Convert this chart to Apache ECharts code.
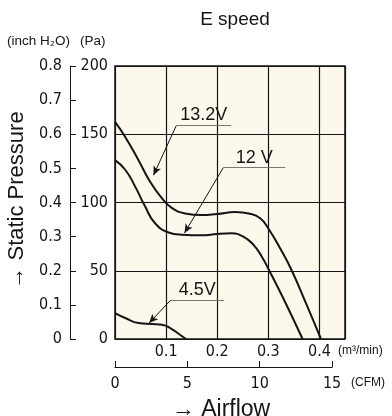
<!DOCTYPE html>
<html>
<head>
<meta charset="utf-8">
<script src="https://cdn.jsdelivr.net/npm/echarts@6/dist/echarts.min.js"></script>
<style>
html,body{margin:0;padding:0;background:#fff;}
#chart{width:392px;height:416px;}
</style>
</head>
<body>
<div id="chart"></div>
<script>
// ---- data (airflow in m3/min, static pressure in Pa) ----
const x132 = [0, 0.02, 0.046, 0.069, 0.092, 0.111, 0.137, 0.17, 0.2, 0.235, 0.264, 0.284, 0.3, 0.323, 0.346, 0.375, 0.403];
const y132 = [159, 148, 131, 115, 103, 96, 92, 90.8, 91.6, 93, 91.8, 88.5, 81, 66.5, 50, 25, 0];
const x12 = [0, 0.02, 0.039, 0.059, 0.078, 0.105, 0.131, 0.17, 0.2, 0.228, 0.251, 0.271, 0.287, 0.302, 0.329, 0.367];
const y12 = [131, 124, 112, 97, 85, 78, 76.4, 76, 77, 77.4, 75, 69, 60.5, 50, 30, 0];
const x45 = [0, 0.02, 0.046, 0.072, 0.092, 0.111, 0.127, 0.139];
const y45 = [19, 15.4, 11.7, 11, 10.5, 7.3, 3.1, 0];

const seriesNames = ['13.2V', '12 V', '4.5V'];
const m3Ticks = [0.1, 0.2, 0.3, 0.4];
const cfmTicks = [0, 5, 10, 15];
const paTicks = [0, 50, 100, 150, 200];
const inchTicks = [0, 0.1, 0.2, 0.3, 0.4, 0.5, 0.6, 0.7, 0.8];

// annotation anchors (data units): arrow tip, elbow, underline end x
const annTip = [[0.0753, 120], [0.136, 77.6], [0.0667, 11.7]];
const annElbow = [[0.120, 156.4], [0.212, 125.6], [0.109, 28.5]];
const annEndX = [0.227, 0.333, 0.213];

const CFM_PER_M3 = 35.3147;

const narrow = "'Liberation Sans Narrow','DejaVu Sans Condensed','Liberation Sans',sans-serif";
const sans = "'Liberation Sans',Arial,sans-serif";
const ink = '#151515';

const plotLeft = 115, plotTop = 66, plotW = 230, plotH = 273;
const xMax = 0.45;
const cfmW = plotW * (cfmTicks[cfmTicks.length-1] / CFM_PER_M3) / xMax;

function pairs(xs, ys){ return xs.map((x,i)=>[x, ys[i]]); }

function annotation(i){
  return {
    silent: true,
    animation: false,
    symbol: ['none','none'],
    data: [
      [
        {coord: annElbow[i], symbol: 'none', lineStyle:{color: ink, width: 1, type:'solid'}},
        {coord: annTip[i], symbol: 'arrow', symbolSize: [6, 9]}
      ],
      [
        {coord: annElbow[i], symbol: 'none', lineStyle:{color:'#777', width: 1, type:'solid'},
         label:{show:true, formatter: seriesNames[i], position:'insideMiddleTop', distance: 1,
                fontFamily: sans, fontSize: 18, color: ink}},
        {coord: [annEndX[i], annElbow[i][1]], symbol: 'none'}
      ]
    ],
    label: {show:false},
    lineStyle: {color: ink, width: 1, type:'solid'}
  };
}

const datasets = [pairs(x132, y132), pairs(x12, y12), pairs(x45, y45)];

const chart = echarts.init(document.getElementById('chart'), null, {renderer:'canvas'});
chart.setOption({
  animation: false,
  backgroundColor: '#ffffff',
  title: {
    text: 'E speed', left: plotLeft + plotW/2, top: 5, textAlign: 'center',
    textStyle: {fontFamily: sans, fontSize: 19, fontWeight: 'normal', color: ink}
  },
  grid: [
    {left: plotLeft, top: plotTop, width: plotW, height: plotH, show: true,
     backgroundColor: '#fcf9ec', borderColor: ink, borderWidth: 1.5},
    {left: plotLeft, width: cfmW, bottom: 49, height: 1, show: false}
  ],
  xAxis: [
    {type:'value', gridIndex:0, min:0, max:xMax, interval:0.1,
     axisLine:{show:false}, axisTick:{show:false},
     splitLine:{show:true, lineStyle:{color:ink, width:1.2}},
     axisLabel:{margin:5, fontFamily:narrow, fontSize:16, color:ink,
       formatter: v => m3Ticks.some(t => Math.abs(t - v) < 1e-6) ? v.toFixed(1) : ''}},
    {type:'value', gridIndex:1, min:cfmTicks[0], max:cfmTicks[cfmTicks.length-1], interval:5,
     position:'bottom',
     axisLine:{show:true, lineStyle:{color:ink, width:1}},
     axisTick:{show:true, inside:true, length:6, lineStyle:{color:ink, width:1}},
     splitLine:{show:false},
     axisLabel:{margin:9, fontFamily:narrow, fontSize:16, color:ink,
       formatter: v => cfmTicks.includes(v) ? String(v) : ''}}
  ],
  yAxis: [
    {type:'value', gridIndex:0, min:paTicks[0], max:paTicks[paTicks.length-1], interval:50,
     axisLine:{show:false}, axisTick:{show:false},
     splitLine:{show:true, lineStyle:{color:ink, width:1.2}},
     axisLabel:{margin:7, fontFamily:narrow, fontSize:16, color:ink}},
    {type:'value', gridIndex:0, position:'left', offset:45, min:0, max:0.8, interval:0.1,
     axisLine:{show:true, lineStyle:{color:ink, width:1}},
     axisTick:{show:true, inside:true, length:6, lineStyle:{color:ink, width:1}},
     splitLine:{show:false},
     axisLabel:{margin:8, fontFamily:narrow, fontSize:16, color:ink,
       formatter: v => { const t = inchTicks.find(t => Math.abs(t - v) < 1e-6); return t === undefined ? '' : (t === 0 ? '0' : t.toFixed(1)); }}},
    {type:'value', gridIndex:1, show:false, min:0, max:1}
  ],
  series: datasets.map((d, i) => ({
    type: 'line', name: seriesNames[i], xAxisIndex: 0, yAxisIndex: 0,
    data: d, showSymbol: false, smooth: 0.5,
    lineStyle: {color: ink, width: 2}, silent: true,
    markLine: annotation(i)
  })),
  graphic: [
    {type:'text', left: 7, top: 34, style:{text:'(inch H₂O)', font:"13.5px 'Liberation Sans',sans-serif", fill:ink}},
    {type:'text', left: 80, top: 34, style:{text:'(Pa)', font:"13.5px 'Liberation Sans',sans-serif", fill:ink}},
    {type:'text', left: 338, top: 345, style:{text:'(m³/min)', font:"12px 'Liberation Sans',sans-serif", fill:ink}},
    {type:'text', left: 351, top: 377, style:{text:'(CFM)', font:"12px 'Liberation Sans',sans-serif", fill:ink}},
    {type:'text', x: 17, y: 200, rotation: Math.PI/2,
     style:{text:'→ Static Pressure', font:"22px 'Liberation Sans',sans-serif", fill:ink, textAlign:'center', textVerticalAlign:'middle'}},
    {type:'text', x: 221, y: 410,
     style:{text:'→ Airflow', font:"23px 'Liberation Sans',sans-serif", fill:ink, textAlign:'center', textVerticalAlign:'middle'}}
  ]
});
</script>
</body>
</html>
